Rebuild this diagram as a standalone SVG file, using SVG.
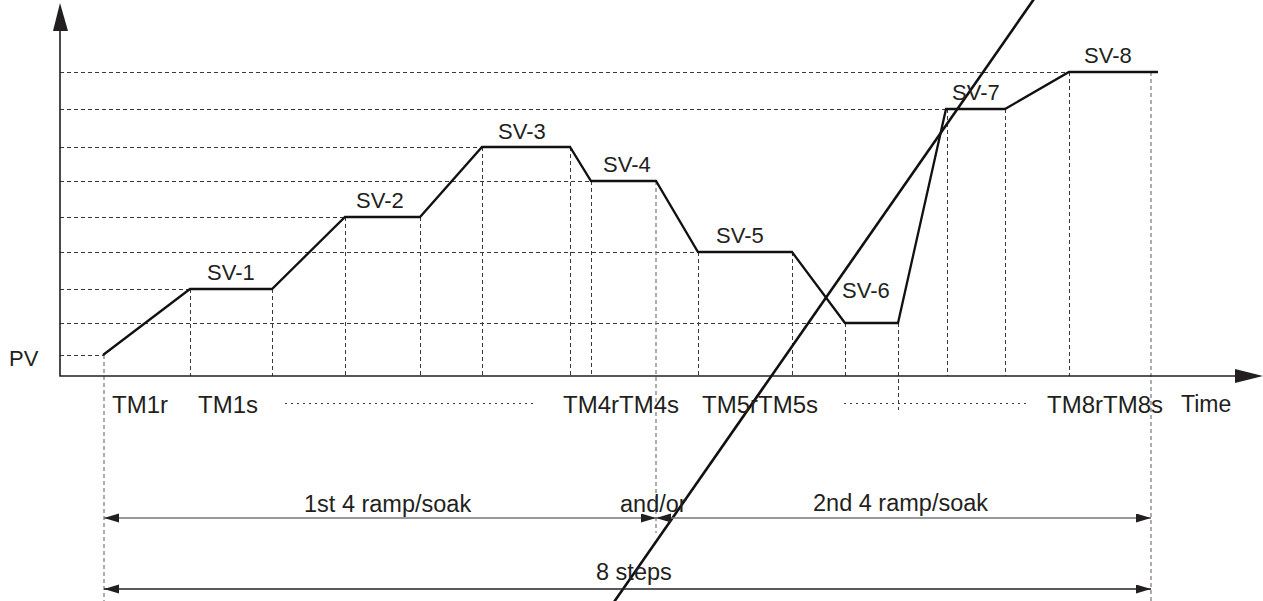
<svg xmlns="http://www.w3.org/2000/svg" width="1263" height="601" viewBox="0 0 1263 601">
<style>
.bg{fill:#ffffff}
.axis{stroke:#231f20;stroke-width:1.6;fill:none}
.grid{stroke:#3a3a3a;stroke-width:1;stroke-dasharray:4 3;fill:none}
.gridl{stroke:#777;stroke-width:1.2;stroke-dasharray:4 3;fill:none}
.dot{stroke:#3a3a3a;stroke-width:1;stroke-dasharray:2 4;fill:none}
.prof{stroke:#111;stroke-width:2.3;fill:none;stroke-linejoin:miter}
.diag{stroke:#111;stroke-width:2.6;fill:none}
.dim1{stroke:#777;stroke-width:1.6;fill:none}
.dim2{stroke:#222;stroke-width:1.3;fill:none}
.sv{font-family:"Liberation Sans",Arial,sans-serif;font-size:22px;fill:#231f20}
.tm{font-family:"Liberation Sans",Arial,sans-serif;font-size:24px;fill:#231f20}
.dl{font-family:"Liberation Sans",Arial,sans-serif;font-size:23.5px;fill:#231f20}
.head{fill:#231f20}
</style>
<defs>
<marker id="dimArrow" markerUnits="userSpaceOnUse" markerWidth="16" markerHeight="10" refX="15" refY="4.5" orient="auto-start-reverse" viewBox="0 0 16 10">
<path d="M0,0 L15,4.5 L0,9 z" class="head"/>
</marker>
</defs>
<rect class="bg" x="0" y="0" width="1263" height="601"/>

<g id="grid">
<path class="grid" d="M60,72.5H1069 M60,109.5H947 M60,147.5H482 M60,181.5H591 M60,217.5H345 M60,252.5H698 M60,289.5H190 M60,323.5H845 M60,355.5H104"/>
<path class="grid" d="M190.5,289V376 M272.5,289V376 M345.5,217V376 M420.5,217V376 M482.5,147V376 M570.5,147V376 M591.5,181V376 M698.5,252V376 M792.5,252V376 M845.5,323V376 M947.5,109V376 M1005.5,109V376 M1069.5,72V376 M898.5,323V410"/>
<path class="gridl" d="M104,355V601 M1151,72V601 M656,181V533"/>
<path class="dot" d="M285,403.5H537 M844,403.5H1030"/>
</g>

<g id="axes">
<path class="axis" d="M60,30V376H1236"/>
<polygon class="head" points="60,3 53,31 68,31"/>
<polygon class="head" points="1263,376 1235,369 1235,383"/>
</g>

<g id="profile">
<polyline class="prof" points="103,355 190,289 272,289 345,217 420,217 482,147 570,147 591,181 656,181 698,252 792,252 845,323 898,323 946,109 1005,109 1069,72 1158,72"/>
</g>

<g id="connectors">
<line class="diag" x1="1034" y1="-1" x2="614" y2="602"/>
<line class="dim1" x1="104" y1="518" x2="656" y2="518" marker-start="url(#dimArrow)" marker-end="url(#dimArrow)"/>
<line class="dim1" x1="656" y1="518" x2="1151" y2="518" marker-start="url(#dimArrow)" marker-end="url(#dimArrow)"/>
<line class="dim2" x1="104" y1="589" x2="1151" y2="589" marker-start="url(#dimArrow)" marker-end="url(#dimArrow)"/>
</g>

<g id="labels">
<text class="sv" x="9" y="366">PV</text>
<text class="sv" x="207" y="280">SV-1</text>
<text class="sv" x="356" y="208">SV-2</text>
<text class="sv" x="498" y="139">SV-3</text>
<text class="sv" x="603" y="172">SV-4</text>
<text class="sv" x="716" y="243">SV-5</text>
<text class="sv" x="842" y="298">SV-6</text>
<text class="sv" x="952" y="100">SV-7</text>
<text class="sv" x="1084" y="63">SV-8</text>
<text class="tm" x="112" y="413">TM1r</text>
<text class="tm" x="198" y="413">TM1s</text>
<text class="tm" x="563" y="413">TM4rTM4s</text>
<text class="tm" x="702" y="413">TM5rTM5s</text>
<text class="tm" x="1047" y="413">TM8rTM8s</text>
<text class="tm" x="1181" y="412" style="font-size:23px">Time</text>
<text class="dl" x="304" y="512">1st 4 ramp/soak</text>
<text class="dl" x="620" y="512">and/or</text>
<text class="dl" x="813" y="511">2nd 4 ramp/soak</text>
<text class="dl" x="596" y="580">8 steps</text>
</g>
</svg>
